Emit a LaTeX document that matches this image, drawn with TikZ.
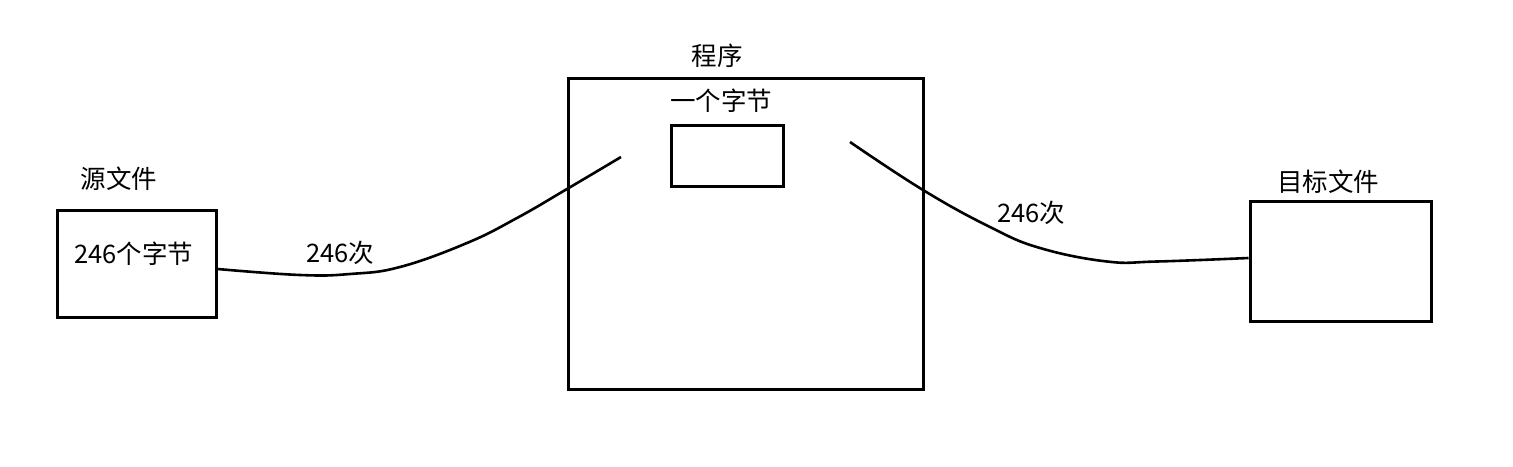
\documentclass[tikz,border=0pt]{standalone}
\usepackage{fontspec}
\newfontfamily\cjk{Noto Sans CJK SC}
\begin{document}
\begin{tikzpicture}[x=1pt,y=-1pt,
  box/.style={draw,line width=3pt,inner sep=0pt,fill=none},
  lbl/.style={font=\cjk\fontsize{25.5}{30}\selectfont,inner sep=0pt,anchor=center},
  wire/.style={line width=2.6pt}]
\useasboundingbox[fill=white] (0,0) rectangle (1513,466);
\node[box,minimum width=159pt,minimum height=107pt] (src) at (136.5,263.5) {};
\node[box,minimum width=355pt,minimum height=311pt] (prog) at (745.5,233.5) {};
\node[box,minimum width=112pt,minimum height=61pt] (byte) at (727,156) {};
\node[box,minimum width=181pt,minimum height=120pt] (dst) at (1340.5,261) {};
\node[lbl] (srclbl) at (119,179) {源文件};
\node[lbl] (srctxt) at (134,254) {246个字节};
\node[lbl] (proglbl) at (717,56) {程序};
\node[lbl] (bytelbl) at (721,101) {一个字节};
\node[lbl] (dstlbl) at (1328,182) {目标文件};
\node[lbl] (cntl) at (340,253) {246次};
\node[lbl] (cntr) at (1031,213) {246次};
\coordinate (a0) at ([yshift=-5.5pt]src.east);
\coordinate (a1) at (621,157);
\coordinate (b0) at (850,142);
\coordinate (b1) at ([yshift=3pt]dst.west);
\draw[wire] plot[smooth,tension=0.7] coordinates {(a0) (300,275) (350,274) (400,267) (467,243) (517,218) (567,189) (a1)};
\draw[wire] plot[smooth,tension=0.7] coordinates {(b0) (923,190) (990,227) (1040,248) (1107,261.5) (1157,261.5) (b1)};
\end{tikzpicture}
\end{document}
